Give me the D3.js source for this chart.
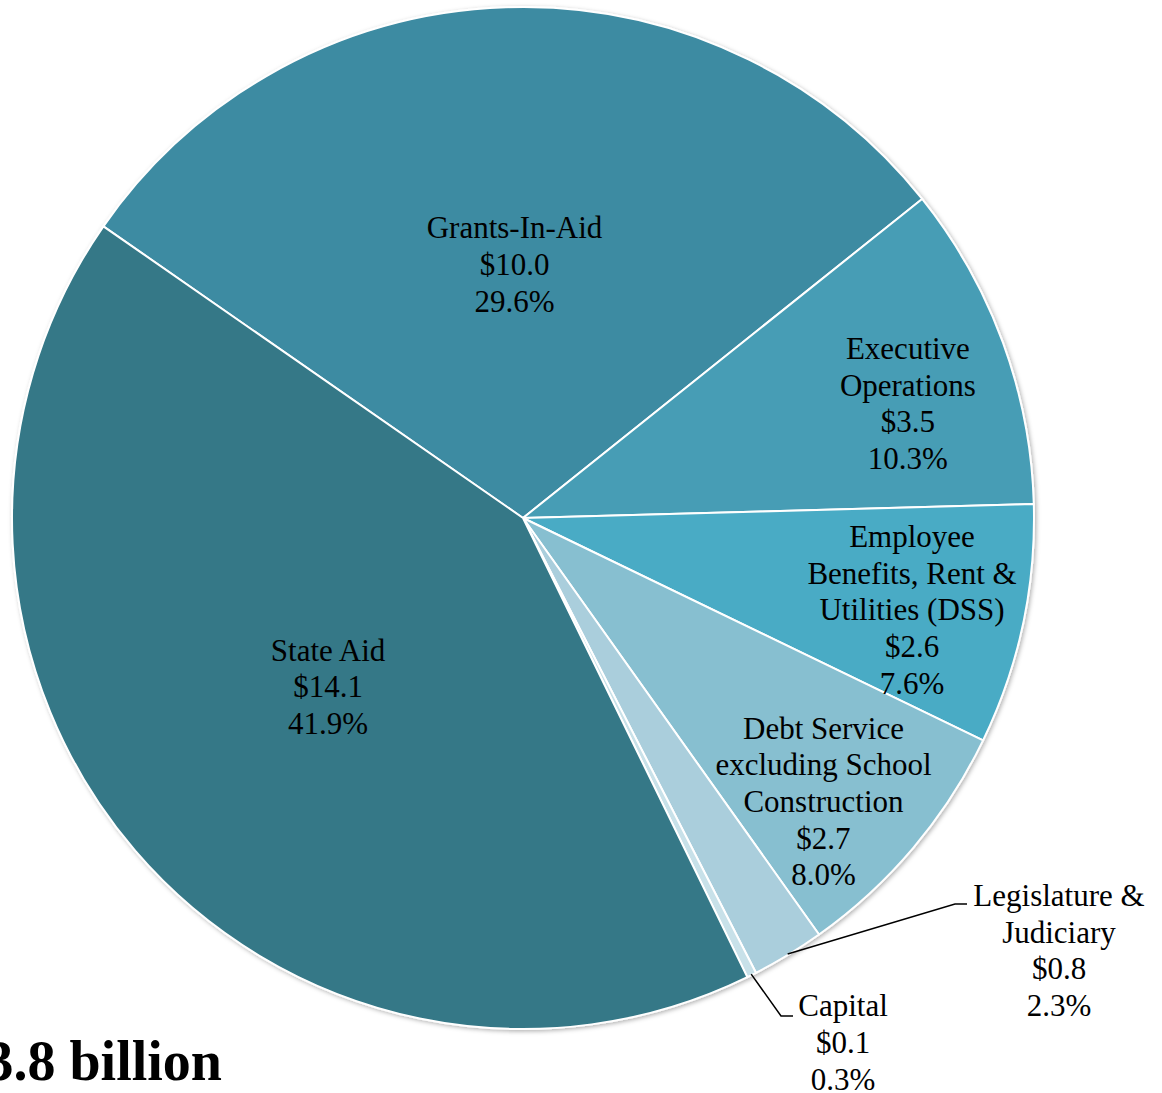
<!DOCTYPE html>
<html>
<head>
<meta charset="utf-8">
<script src="https://cdn.jsdelivr.net/npm/d3@7"></script>
<style>
    body { margin: 0; background: #fff; overflow: hidden; }
    text { font-family: "Liberation Serif", "Times New Roman", serif; fill: #000; }
</style>
</head>
<body>
<div id="chart"></div>
<script>
// Data
var categories = ['Grants-In-Aid', 'Executive Operations', 'Employee Benefits, Rent & Utilities (DSS)',
    'Debt Service excluding School Construction', 'Legislature & Judiciary', 'Capital', 'State Aid'];
var labelLines = [
    ['Grants-In-Aid'],
    ['Executive', 'Operations'],
    ['Employee', 'Benefits, Rent &', 'Utilities (DSS)'],
    ['Debt Service', 'excluding School', 'Construction'],
    ['Legislature &', 'Judiciary'],
    ['Capital'],
    ['State Aid']
];
var dollars = [10.0, 3.5, 2.6, 2.7, 0.8, 0.1, 14.1];
var percents = [29.6, 10.3, 7.6, 8.0, 2.3, 0.3, 41.9];
var total = '$33.8 billion';

var colors = ['#3e8ba2', '#469db5', '#4aabc5', '#87bfd0', '#aacedc', '#c8e1e9', '#347887'];

// Label layout: inside labels at radius fraction k and angle nudge da (degrees),
// outside labels get an elbow + text offset from the pie centre
var labelLayout = [
    { k: 0.497, da: 0 },
    { k: 0.786, da: 3.5 },
    { k: 0.782, da: 1.1 },
    { k: 0.808, da: 3.1 },
    { outside: true, elbow: [432, 386], text: [536, 432] },
    { outside: true, elbow: [258, 498], text: [320, 524] },
    { k: 0.504, da: -0.2 }
];

var svgWidth = 1162;
var svgHeight = 1093;
var cx = 523, cy = 518, radius = 511;
var fontSize = 31;
var lineHeight = 36.7;

var svg = d3.select('#chart')
    .append('svg')
    .attr('width', svgWidth)
    .attr('height', svgHeight);

var defs = svg.append('defs');
var shadow = defs.append('filter')
    .attr('id', 'shadow')
    .attr('x', '-5%').attr('y', '-5%')
    .attr('width', '110%').attr('height', '110%');
shadow.append('feDropShadow')
    .attr('dx', 1.5)
    .attr('dy', 1.5)
    .attr('stdDeviation', 2)
    .attr('flood-color', '#000')
    .attr('flood-opacity', 0.3);

var chartGroup = svg.append('g')
    .attr('transform', `translate(${cx}, ${cy})`);

var startAngle = -55.2 * Math.PI / 180;
var pie = d3.pie()
    .sort(null)
    .value((d) => d)
    .startAngle(startAngle)
    .endAngle(startAngle + 2 * Math.PI);

var arcs = pie(percents);

var arc = d3.arc()
    .innerRadius(0)
    .outerRadius(radius);

chartGroup.append('g')
    .attr('filter', 'url(#shadow)')
    .selectAll('path')
    .data(arcs)
    .enter()
    .append('path')
    .attr('d', arc)
    .attr('fill', (d, i) => colors[i])
    .attr('stroke', '#fff')
    .attr('stroke-width', 2)
    .attr('stroke-linejoin', 'round');

// Labels
function polar(angle, r) {
    return [r * Math.sin(angle), -r * Math.cos(angle)];
}

arcs.forEach((d, i) => {
    var lay = labelLayout[i];
    var lines = labelLines[i].concat(['$' + dollars[i].toFixed(1), percents[i].toFixed(1) + '%']);
    var mid = (d.startAngle + d.endAngle) / 2;
    var pos;

    if (lay.outside) {
        var p0 = polar(mid, radius - 1);
        chartGroup.append('path')
            .attr('d', d3.line()([p0, lay.elbow, [lay.elbow[0] + 12, lay.elbow[1]]]))
            .attr('fill', 'none')
            .attr('stroke', '#000')
            .attr('stroke-width', 1.5);
        pos = lay.text;
    } else {
        pos = polar(mid + lay.da * Math.PI / 180, radius * lay.k);
    }

    var text = chartGroup.append('text')
        .attr('text-anchor', 'middle')
        .attr('font-size', fontSize);
    var top = pos[1] - (lines.length - 1) * lineHeight / 2;
    lines.forEach((line, j) => {
        text.append('tspan')
            .attr('x', pos[0])
            .attr('y', top + j * lineHeight)
            .attr('dy', '0.35em')
            .text(line);
    });
});

// Total (cut at the left edge, as in the source)
svg.append('text')
    .attr('x', 222)
    .attr('y', 1080)
    .attr('text-anchor', 'end')
    .attr('font-size', 56)
    .attr('font-weight', 'bold')
    .text(total);
</script>
</body>
</html>
